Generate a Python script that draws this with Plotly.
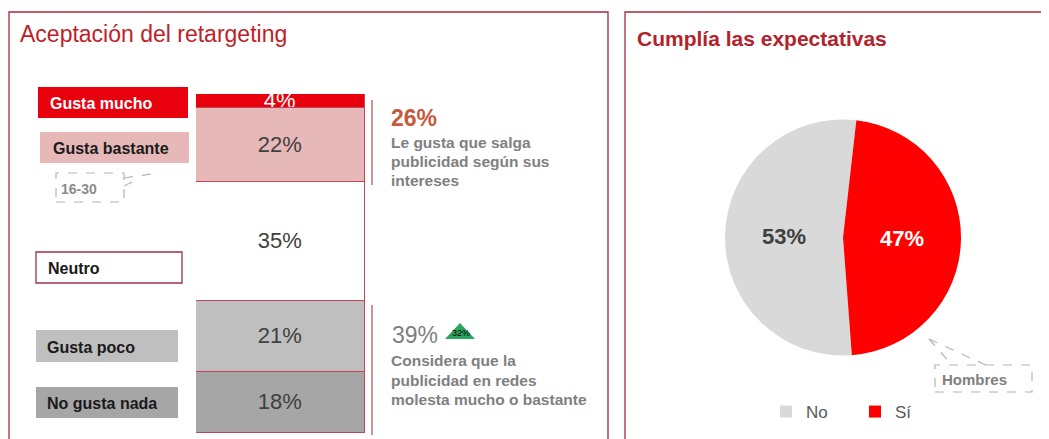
import plotly.graph_objects as go

# ---------------- Data ----------------
titles = ["Aceptación del retargeting", "Cumplía las expectativas"]

categories = ["Gusta mucho", "Gusta bastante", "Neutro", "Gusta poco", "No gusta nada"]
values = [4, 22, 35, 21, 18]

summary_values = [26, 39]
summary_lines = [
    ["Le gusta que salga", "publicidad según sus", "intereses"],
    ["Considera que la", "publicidad en redes", "molesta mucho o bastante"],
]
trend_value = 32
callouts = ["16-30", "Hombres"]

pie_labels = ["No", "Sí"]
pie_values = [53, 47]

# ---------------- Styles ----------------
W, H = 1049, 439
OFF = 8  # page body margin
FONT = "Liberation Sans, Arial, sans-serif"
bar_colors = ["#e8000d", "#e6b8b8", "#ffffff", "#bfbfbf", "#a6a6a6"]
seg_text_colors = ["#ffffff", "#404040", "#404040", "#404040", "#404040"]
label_text_colors = ["#ffffff", "#1a1a1a", "#1a1a1a", "#1a1a1a", "#1a1a1a"]
pie_colors = ["#d9d9d9", "#ff0000"]
pie_text_colors = ["#404040", "#ffffff"]
BORDER = "#a52a3c"


def px(x):
    return (x - OFF) / W


def py(y):
    return 1 - (y - OFF) / H


fig = go.Figure()

# stacked bar (y reversed so the first category sits on top)
for cat, v, c, tc in zip(categories, values, bar_colors, seg_text_colors):
    fig.add_trace(go.Bar(
        x=["r"], y=[v], name=cat, showlegend=False,
        marker=dict(color=c, line=dict(color="#c0465a", width=1.5)),
        text=[f"{v}%"], textposition="inside", insidetextanchor="middle",
        textangle=0, constraintext="none", cliponaxis=False,
        textfont=dict(family=FONT, size=22, color=tc),
        hoverinfo="skip",
    ))

fig.add_trace(go.Pie(
    labels=pie_labels, values=pie_values, sort=False, direction="clockwise",
    rotation=175.7, marker=dict(colors=pie_colors, line=dict(width=0)),
    texttemplate="%{value}%", textposition="inside",
    insidetextorientation="horizontal",
    textfont=dict(family=FONT, size=22, color=pie_text_colors, weight="bold"),
    domain=dict(x=[px(725), px(961)], y=[py(356), py(119)]),
    hoverinfo="skip", showlegend=True,
))

shapes = []
annotations = []

# panel borders
shapes.append(dict(type="rect", xref="paper", yref="paper", x0=px(9), x1=px(608),
                   y0=py(470), y1=py(12), line=dict(color=BORDER, width=1.3),
                   fillcolor="rgba(0,0,0,0)", layer="below"))
shapes.append(dict(type="rect", xref="paper", yref="paper", x0=px(625), x1=px(1090),
                   y0=py(470), y1=py(12), line=dict(color=BORDER, width=1.3),
                   fillcolor="rgba(0,0,0,0)", layer="below"))

# titles
annotations.append(dict(text=titles[0], xref="paper", yref="paper", x=px(18), y=py(34),
                        xanchor="left", yanchor="middle", showarrow=False,
                        font=dict(family=FONT, size=23, color="#c01e28")))
annotations.append(dict(text=titles[1], xref="paper", yref="paper", x=px(635), y=py(38),
                        xanchor="left", yanchor="middle", showarrow=False,
                        font=dict(family=FONT, size=21, color="#b2232b", weight="bold")))

# category label boxes
boxes = [(38, 87, 188, 118), (40, 132, 189, 163), (36, 252, 182, 283),
         (36, 330, 178, 362), (36, 387, 178, 418)]
text_x = [48, 51, 46, 45, 45]
for cat, c, tc, (x0, y0, x1, y1), tx in zip(categories, bar_colors, label_text_colors, boxes, text_x):
    line = dict(color="#a0304a", width=1.3) if c == "#ffffff" else dict(width=0)
    shapes.append(dict(type="rect", xref="paper", yref="paper", x0=px(x0), x1=px(x1),
                       y0=py(y1), y1=py(y0), fillcolor=c, line=line, layer="below"))
    annotations.append(dict(text=cat, xref="paper", yref="paper", x=px(tx), y=py((y0 + y1) / 2 + 1),
                            xanchor="left", yanchor="middle", showarrow=False,
                            font=dict(family=FONT, size=16, color=tc, weight="bold")))

# callout 16-30
dash = dict(color="#b4b4b4", width=1.2, dash="dash")
shapes.append(dict(type="rect", xref="paper", yref="paper", x0=px(56), x1=px(124),
                   y0=py(202), y1=py(173), line=dash, fillcolor="rgba(0,0,0,0)"))
shapes.append(dict(type="line", xref="paper", yref="paper", x0=px(124), y0=py(178),
                   x1=px(158), y1=py(173), line=dash))
shapes.append(dict(type="line", xref="paper", yref="paper", x0=px(124), y0=py(186),
                   x1=px(140), y1=py(178), line=dash))
annotations.append(dict(text=callouts[0], xref="paper", yref="paper", x=px(59), y=py(189),
                        xanchor="left", yanchor="middle", showarrow=False,
                        font=dict(family=FONT, size=14, color="#8c8c8c", weight="bold")))

# bracket lines
shapes.append(dict(type="line", xref="paper", yref="paper", x0=px(372), x1=px(372),
                   y0=py(185), y1=py(100), line=dict(color="#b04a4a", width=1.2)))
shapes.append(dict(type="line", xref="paper", yref="paper", x0=px(372), x1=px(372),
                   y0=py(435), y1=py(305), line=dict(color="#b04a4a", width=1.2)))

# summaries
annotations.append(dict(text=f"{summary_values[0]}%", xref="paper", yref="paper",
                        x=px(389), y=py(118), xanchor="left", yanchor="middle", showarrow=False,
                        font=dict(family=FONT, size=23, color="#c55a3c", weight="bold")))
annotations.append(dict(text=f"{summary_values[1]}%", xref="paper", yref="paper",
                        x=px(390), y=py(335), xanchor="left", yanchor="middle", showarrow=False,
                        font=dict(family=FONT, size=23, color="#7f7f7f")))
for lines, ys in zip(summary_lines, [[142.5, 161.5, 181], [360.5, 380.5, 399.5]]):
    for t, yy in zip(lines, ys):
        annotations.append(dict(text=t, xref="paper", yref="paper", x=px(389), y=py(yy),
                                xanchor="left", yanchor="middle", showarrow=False,
                                font=dict(family=FONT, size=15.5, color="#808080", weight="bold")))

# green trend triangle
shapes.append(dict(type="path", xref="paper", yref="paper",
                   path=f"M {px(445)} {py(339)} L {px(475)} {py(339)} L {px(460)} {py(323)} Z",
                   fillcolor="#2aa55e", line=dict(width=0)))
annotations.append(dict(text=f"{trend_value}%", xref="paper", yref="paper", x=px(461), y=py(333),
                        xanchor="center", yanchor="middle", showarrow=False,
                        font=dict(family=FONT, size=9, color="#000000")))

# callout Hombres
shapes.append(dict(type="rect", xref="paper", yref="paper", x0=px(935), x1=px(1032),
                   y0=py(392), y1=py(365), line=dash, fillcolor="rgba(0,0,0,0)"))
shapes.append(dict(type="line", xref="paper", yref="paper", x0=px(929), y0=py(339),
                   x1=px(952), y1=py(365), line=dash))
shapes.append(dict(type="line", xref="paper", yref="paper", x0=px(929), y0=py(339),
                   x1=px(986), y1=py(365), line=dash))
annotations.append(dict(text=callouts[1], xref="paper", yref="paper", x=px(940), y=py(379),
                        xanchor="left", yanchor="middle", showarrow=False,
                        font=dict(family=FONT, size=15, color="#808080", weight="bold")))

fig.update_layout(
    width=W, height=H, margin=dict(l=0, r=0, t=0, b=0),
    paper_bgcolor="white", plot_bgcolor="rgba(0,0,0,0)",
    barmode="stack", bargap=0,
    xaxis=dict(domain=[px(196), px(365)], range=[-0.5, 0.5], visible=False, fixedrange=True),
    yaxis=dict(domain=[py(433), py(94)], range=[100, 0], visible=False, fixedrange=True),
    shapes=shapes, annotations=annotations,
    showlegend=True,
    legend=dict(orientation="h", x=px(766), y=py(412), xanchor="left", yanchor="middle",
                traceorder="normal",
                font=dict(family=FONT, size=17, color="#595959"),
                bgcolor="rgba(0,0,0,0)", entrywidth=44, entrywidthmode="pixels"),
    font=dict(family=FONT),
)

fig.write_html("out.html")
